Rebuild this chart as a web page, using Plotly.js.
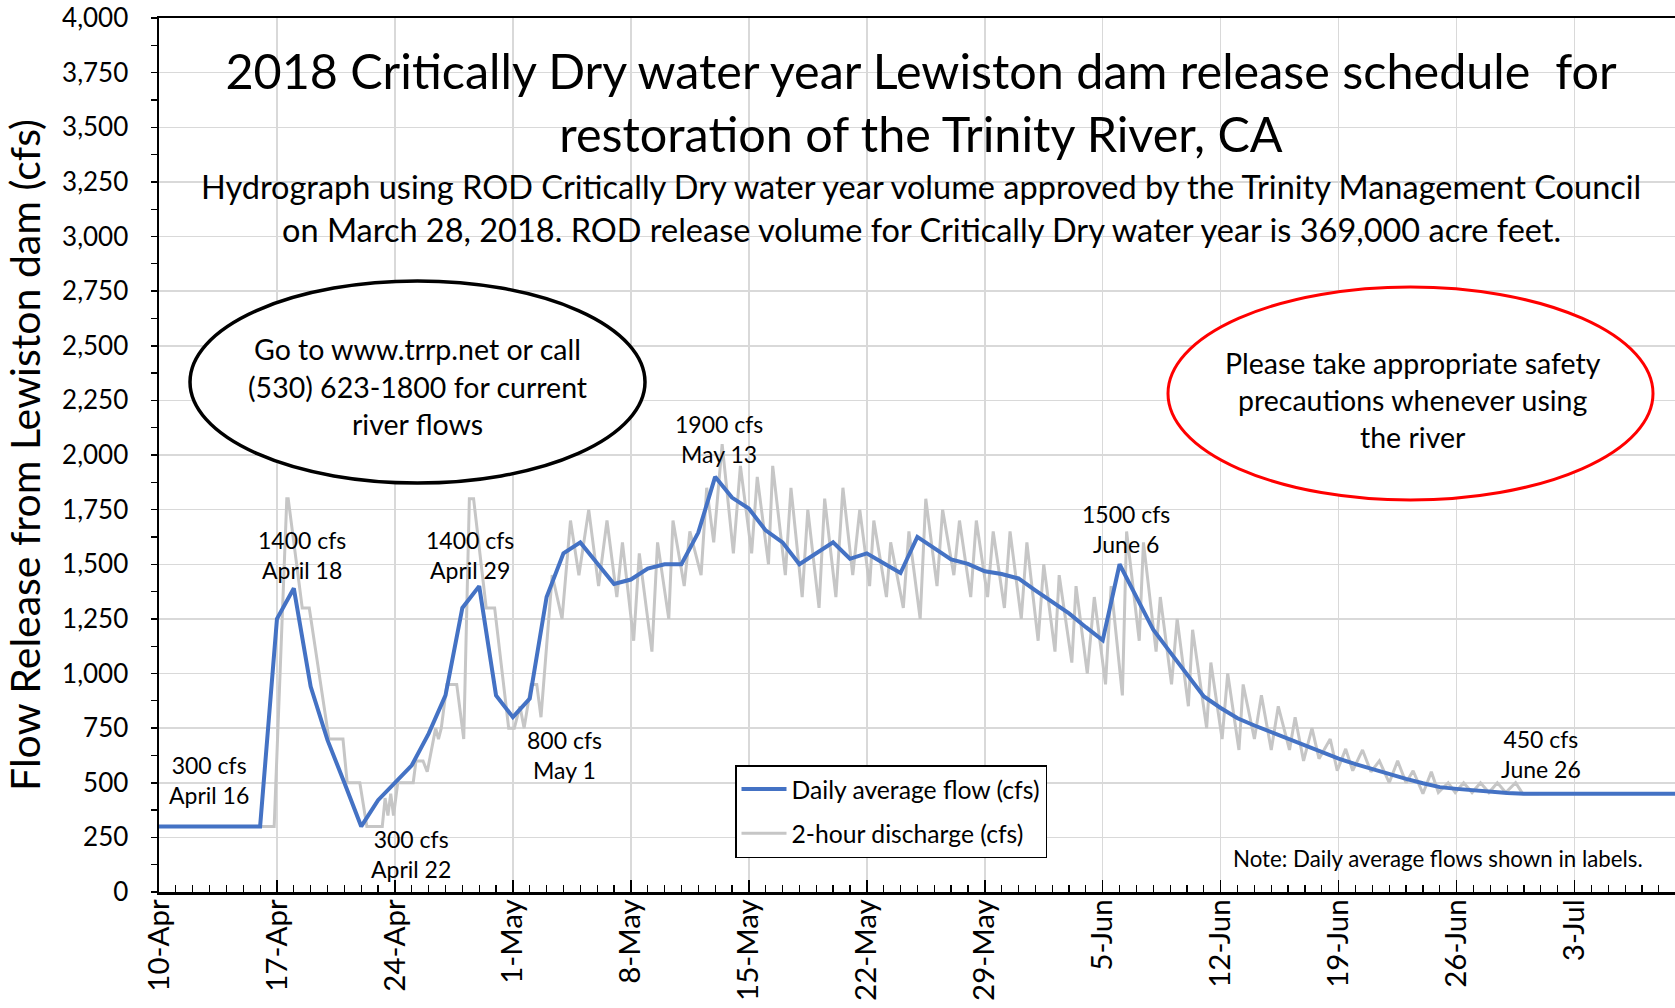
<!DOCTYPE html>
<html><head><meta charset="utf-8">
<script src="https://cdn.plot.ly/plotly-3.0.1.min.js"></script>
<style>html,body{margin:0;padding:0;background:#fff}#chart{width:1675px;height:1008px}</style>
</head><body><div id="chart"></div>
<script>
// ---- Daily average flow (cfs), one value per day starting 10-Apr-2018 ----
const dailyApr = [300,300,300,300,300,300,300,1250,1390,940,695,500,300,420,500,580,725,900,1300,1400,900];
const dailyMay = [800,885,1350,1550,1600,1505,1410,1430,1480,1500,1500,1645,1900,1805,1755,1655,1600,1500,1550,1600,1525,1550,1505,1460,1625,1575,1522,1502,1468,1455,1435];
const dailyJun = [1380,1328,1275,1212,1152,1500,1350,1200,1098,997,895,842,795,762,732,702,670,638,610,585,562,538,518,498,480,472,465,458,453,450];
const dailyJul = [450,450,450,450,450,450,450,450,450,450];

// ---- 2-hour discharge (cfs): [time, flow] vertices ----
const gray2h = [
["2018-04-10 00:00",300],["2018-04-16 20:00",300],["2018-04-17 14:00",1800],["2018-04-17 16:00",1800],
["2018-04-18 12:00",1300],["2018-04-18 22:00",1300],["2018-04-20 02:00",700],["2018-04-20 22:00",700],
["2018-04-21 04:00",500],["2018-04-21 22:00",500],["2018-04-22 08:00",300],["2018-04-23 06:00",300],
["2018-04-23 10:00",430],["2018-04-23 14:00",350],["2018-04-23 18:00",450],["2018-04-23 22:00",350],
["2018-04-24 04:00",500],["2018-04-25 02:00",500],["2018-04-25 06:00",600],["2018-04-25 16:00",600],
["2018-04-25 22:00",550],["2018-04-26 10:00",750],["2018-04-26 14:00",700],["2018-04-26 18:00",750],
["2018-04-27 02:00",950],["2018-04-27 16:00",950],["2018-04-28 02:00",700],["2018-04-28 10:00",1800],
["2018-04-28 16:00",1800],["2018-04-29 10:00",1300],["2018-04-29 22:00",1300],["2018-04-30 18:00",750],
["2018-05-01 02:00",750],["2018-05-01 10:00",850],["2018-05-01 16:00",750],["2018-05-02 02:00",950],
["2018-05-02 10:00",950],["2018-05-02 16:00",800],["2018-05-03 08:00",1450],["2018-05-03 22:00",1250],
["2018-05-04 10:00",1700],["2018-05-04 22:00",1450],["2018-05-05 12:00",1750],["2018-05-06 02:00",1400],
["2018-05-06 14:00",1700],["2018-05-07 04:00",1350],["2018-05-07 12:00",1600],["2018-05-08 04:00",1150],
["2018-05-08 12:00",1550],["2018-05-09 06:00",1100],["2018-05-09 14:00",1600],["2018-05-10 06:00",1250],
["2018-05-10 12:00",1700],["2018-05-11 04:00",1400],["2018-05-11 12:00",1650],["2018-05-12 04:00",1450],
["2018-05-12 12:00",1850],["2018-05-12 22:00",1600],["2018-05-13 10:00",2050],["2018-05-14 02:00",1550],
["2018-05-14 12:00",1950],["2018-05-15 04:00",1550],["2018-05-15 12:00",1900],["2018-05-16 04:00",1500],
["2018-05-16 10:00",1950],["2018-05-17 04:00",1450],["2018-05-17 12:00",1850],["2018-05-18 04:00",1350],
["2018-05-18 12:00",1750],["2018-05-19 04:00",1300],["2018-05-19 12:00",1800],["2018-05-20 04:00",1350],
["2018-05-20 14:00",1850],["2018-05-21 04:00",1450],["2018-05-21 14:00",1750],["2018-05-22 04:00",1400],
["2018-05-22 10:00",1700],["2018-05-23 04:00",1350],["2018-05-23 10:00",1600],["2018-05-24 04:00",1300],
["2018-05-24 12:00",1650],["2018-05-25 04:00",1250],["2018-05-25 12:00",1800],["2018-05-26 04:00",1400],
["2018-05-26 12:00",1750],["2018-05-27 04:00",1450],["2018-05-27 12:00",1700],["2018-05-28 04:00",1350],
["2018-05-28 12:00",1700],["2018-05-29 04:00",1350],["2018-05-29 12:00",1650],["2018-05-30 04:00",1300],
["2018-05-30 12:00",1650],["2018-05-31 04:00",1250],["2018-05-31 12:00",1600],["2018-06-01 04:00",1150],
["2018-06-01 12:00",1500],["2018-06-02 04:00",1100],["2018-06-02 10:00",1450],["2018-06-03 04:00",1050],
["2018-06-03 10:00",1400],["2018-06-04 02:00",1000],["2018-06-04 12:00",1350],["2018-06-05 04:00",950],
["2018-06-05 12:00",1400],["2018-06-06 04:00",900],["2018-06-06 10:00",1650],["2018-06-07 04:00",1150],
["2018-06-07 10:00",1600],["2018-06-08 04:00",1100],["2018-06-08 10:00",1350],["2018-06-09 02:00",950],
["2018-06-09 10:00",1250],["2018-06-10 02:00",850],["2018-06-10 08:00",1200],["2018-06-11 04:00",750],
["2018-06-11 10:00",1050],["2018-06-12 02:00",700],["2018-06-12 10:00",1000],["2018-06-13 02:00",650],
["2018-06-13 08:00",950],["2018-06-14 00:00",700],["2018-06-14 10:00",900],["2018-06-15 00:00",650],
["2018-06-15 10:00",850],["2018-06-16 02:00",650],["2018-06-16 10:00",800],["2018-06-16 22:00",600],
["2018-06-17 10:00",750],["2018-06-17 20:00",610],["2018-06-18 12:00",700],["2018-06-18 22:00",555],
["2018-06-19 10:00",655],["2018-06-19 20:00",555],["2018-06-20 10:00",650],["2018-06-20 22:00",550],
["2018-06-21 10:00",600],["2018-06-22 00:00",500],["2018-06-22 12:00",600],["2018-06-23 00:00",500],
["2018-06-23 10:00",555],["2018-06-24 00:00",450],["2018-06-24 12:00",550],["2018-06-24 22:00",455],
["2018-06-25 12:00",500],["2018-06-25 22:00",455],["2018-06-26 10:00",500],["2018-06-26 22:00",455],
["2018-06-27 10:00",500],["2018-06-27 22:00",455],["2018-06-28 10:00",500],["2018-06-28 22:00",455],
["2018-06-29 12:00",500],["2018-06-29 22:00",450],["2018-06-30 22:00",450]
];

// ---- Labels ----
const flowLabels = [
  "300 cfs<br>April 16","1400 cfs<br>April 18","300 cfs<br>April 22","1400 cfs<br>April 29",
  "800 cfs<br>May 1","1900 cfs<br>May 13","1500 cfs<br>June 6","450 cfs<br>June 26"
];
const titleText = "2018 Critically Dry water year Lewiston dam release schedule  for<br>restoration of the Trinity River, CA";
const subtitleLines = [
  "Hydrograph using ROD Critically Dry water year volume approved by the Trinity Management Council",
  "on March 28, 2018. ROD release volume for Critically Dry water year is 369,000 acre feet."
];
const infoLines = ["Go to www.trrp.net or call","(530) 623-1800 for current","river flows"];
const safetyLines = ["Please take appropriate safety","precautions whenever using","the river"];
const noteText = "Note: Daily average flows shown in labels.";

// ---- build daily dates ----
const dailyFlow = dailyApr.concat(dailyMay, dailyJun, dailyJul);
const dailyDates = dailyFlow.map((v, i) => {
  const d = new Date(Date.UTC(2018, 3, 10 + i));
  return d.toISOString().slice(0, 10);
});

// ---- pixel helpers for placing text/shapes in the plot area ----
const PL = 159, PT = 18, PW = 1516, PH = 874;
const px = x => (x - PL) / PW;
const py = y => (PT + PH - y) / PH;
function txt(text, x, y, size, extra) {
  return Object.assign({text: text, xref: 'paper', yref: 'paper', x: px(x), y: py(y),
    xanchor: 'center', yanchor: 'middle', showarrow: false,
    font: {size: size, color: '#000'}}, extra || {});
}

const labelPos = [[209,780],[302,555],[411,854],[470,555],[564,755],[719,439],[1126,529],[1541,754]];
const annotations = [];
flowLabels.forEach((t, i) => annotations.push(txt(t, labelPos[i][0], labelPos[i][1], 23)));
annotations.push(txt(subtitleLines[0], 921, 186, 32.5));
annotations.push(txt(subtitleLines[1], 921, 229, 32.5));
[349, 387, 424].forEach((y, i) => annotations.push(txt(infoLines[i], 417, y, 28.5)));
[363, 400, 437].forEach((y, i) => annotations.push(txt(safetyLines[i], 1413, y, 28.5)));
annotations.push(txt(noteText, 1438, 858, 22.3));

const traces = [
  {x: gray2h.map(p => p[0]), y: gray2h.map(p => p[1]), type: 'scatter', mode: 'lines',
   name: '2-hour discharge (cfs)', line: {color: '#c6c6c6', width: 3}, legendrank: 2, legendgroup: 'g2'},
  {x: dailyDates, y: dailyFlow, type: 'scatter', mode: 'lines',
   name: 'Daily average flow (cfs)', line: {color: '#4472C4', width: 4}, legendrank: 1, legendgroup: 'g1'}
];

const layout = {
  width: 1675, height: 1008,
  margin: {l: PL, r: 0, t: PT, b: 1008 - PT - PH, pad: 0},
  paper_bgcolor: '#fff', plot_bgcolor: '#fff',
  font: {family: 'Lato, "Open Sans", sans-serif', color: '#000'},
  title: {text: titleText, font: {size: 48.5, color: '#000'}, xref: 'container', yref: 'container',
          x: 921 / 1675, xanchor: 'center', y: 1 - 89 / 1008, yanchor: 'middle'},
  showlegend: true,
  legend: {x: px(735), y: py(765), xanchor: 'left', yanchor: 'top', bgcolor: '#fff',
           bordercolor: '#000', borderwidth: 1.5, font: {size: 24.7, color: '#000'},
           itemwidth: 45, traceorder: 'grouped', tracegroupgap: 9},
  xaxis: {
    type: 'date', range: ['2018-04-10 00:00', '2018-07-08 23:00'],
    tick0: '2018-04-10', dtick: 7 * 86400000, tickformat: '%-d-%b', tickangle: -90,
    ticks: 'inside', ticklen: 12, tickwidth: 1.5, tickcolor: '#000',
    showline: true, linecolor: '#000', linewidth: 2.5, mirror: true,
    showgrid: true, gridcolor: '#d9d9d9', gridwidth: 1.5, zeroline: false,
    tickfont: {size: 29.5, color: '#000'}, ticklabelstandoff: -7,
    minor: {dtick: 86400000, ticks: 'inside', ticklen: 7, tickwidth: 1.2, tickcolor: '#000', showgrid: false}
  },
  yaxis: {
    range: [0, 4000], dtick: 250, tickformat: ',d',
    ticks: 'outside', ticklen: 6, tickwidth: 1.5, tickcolor: '#000',
    showline: true, linecolor: '#000', linewidth: 2.5,
    showgrid: true, gridcolor: '#d9d9d9', gridwidth: 1.5, zeroline: false,
    tickfont: {size: 26, color: '#000'}, ticklabelstandoff: 17,
    minor: {dtick: 125, ticks: 'outside', ticklen: 6, tickwidth: 1.2, tickcolor: '#000', showgrid: false},
    title: {text: 'Flow Release from Lewiston dam (cfs)', font: {size: 41, color: '#000'}, standoff: 12}
  },
  shapes: [
    {type: 'circle', xref: 'paper', yref: 'paper', x0: px(190), x1: px(645), y0: py(483), y1: py(281),
     line: {color: '#000', width: 3.5}, fillcolor: '#fff', layer: 'above'},
    {type: 'circle', xref: 'paper', yref: 'paper', x0: px(1168), x1: px(1653), y0: py(500), y1: py(287),
     line: {color: '#ff0000', width: 3}, fillcolor: '#fff', layer: 'above'}
  ],
  annotations: annotations
};

Plotly.newPlot('chart', traces, layout, {displayModeBar: false, staticPlot: true});
</script>
</body></html>
